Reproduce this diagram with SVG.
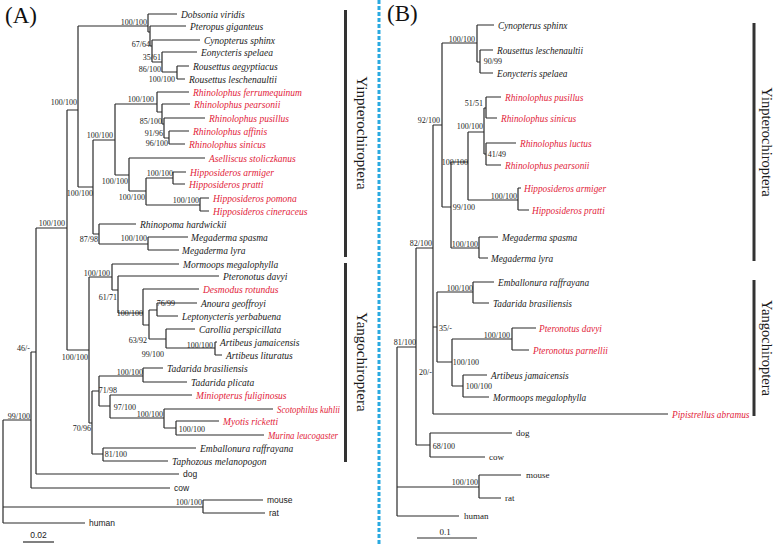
<svg xmlns="http://www.w3.org/2000/svg" width="776" height="546" viewBox="0 0 776 546">
<style>
.e{stroke:#2b2b2b;stroke-width:1.2;fill:none}
.bar{stroke:#333;stroke-width:3}
.sp{font-family:"Liberation Serif",serif;font-style:italic;font-size:9.5px;fill:#1a1a1a}
.spb{font-family:"Liberation Serif",serif;font-style:italic;font-size:9.3px;fill:#1a1a1a}
.r{fill:#e2233a}
.bs{font-family:"Liberation Serif",serif;font-size:8px;fill:#1a1a1a;text-anchor:end}
.og{font-family:"Liberation Sans",sans-serif;font-size:8.5px;fill:#1a1a1a}
.ogb{font-family:"Liberation Serif",serif;font-size:9px;fill:#1a1a1a}
.cl{font-family:"Liberation Serif",serif;font-size:15px;fill:#1a1a1a;text-anchor:middle}
.clb{font-family:"Liberation Serif",serif;font-size:14.5px;fill:#1a1a1a;text-anchor:middle}
.pl{font-family:"Liberation Serif",serif;font-size:23px;fill:#111}
</style>
<rect width="776" height="546" fill="#fff"/>
<line x1="379" y1="0" x2="379" y2="546" stroke="#2aa9e0" stroke-width="3" stroke-dasharray="4 2"/>
<text class="pl" x="5" y="23">(A)</text>
<text class="pl" x="387" y="21">(B)</text>

<g id="connectors-A">
<path class="e" d="M3 420V523M3 420H31M3 507H203M3 523H85
M31 352V488M31 352H36M31 488H170
M36 228V474M36 228H67M36 474H179
M203 500V513M203 500H263M203 513H265
M67 110V350M67 110H78M67 350H89
M78 26V187M78 26H148M78 187H93
M148 14V32M148 14H177M148 32H150
M150 26V46M150 26H186M150 46H152
M152 40V62M152 40H200M152 62H162
M162 52V72M162 52H197M162 72H177
M177 66V79M177 66H189M177 79H185
M93 140V234M93 140H115M93 234H99
M115 104V175M115 104H157M115 175H129
M157 92V112M157 92H189M157 112H162
M162 104V124M162 104H190M162 124H164
M164 118V138M164 118H205M164 138H169
M169 131V144M169 131H189M169 144H185
M129 158V191M129 158H205M129 191H146
M146 178V205M146 178H173M146 205H200
M173 172V184M173 172H186M173 184H185
M200 198V211M200 198H209M200 211H209
M99 224V244M99 224H136M99 244H148
M148 237V250M148 237H188M148 250H179
M89 277V423M89 277H112M89 423H92
M112 264V290M112 264H179M112 290H118
M118 276V313M118 276H219M118 313H143
M143 289V325M143 289H199M143 325H149
M149 310V339M149 310H157M149 339H166
M157 303V316M157 303H197M157 316H178
M166 329V348M166 329H195M166 348H215
M215 342V355M215 342H217M215 355H222
M92 391V454M92 391H99M92 454H103
M99 376V406M99 376H143M99 406H110
M143 368V382M143 368H163M143 382H187
M110 395V418M110 395H192M110 418H164
M164 409V428M164 409H273M164 428H176
M176 421V435M176 421H219M176 435H264
M103 448V461M103 448H196M103 461H168"/>
<line x1="23" y1="542" x2="54" y2="542" class="e"/>
</g>

<g id="support-A" class="bs">
<text x="147" y="25">100/100</text>
<text x="150" y="47">67/64</text>
<text x="161" y="60">35/61</text>
<text x="161" y="72">86/100</text>
<text x="175" y="82">100/100</text>
<text x="154" y="102">100/100</text>
<text x="162" y="124">85/100</text>
<text x="163" y="136">91/96</text>
<text x="168" y="146">96/100</text>
<text x="113" y="138">100/100</text>
<text x="128" y="184">100/100</text>
<text x="173" y="176">100/100</text>
<text x="145" y="200">100/100</text>
<text x="199" y="203">100/100</text>
<text x="93" y="196">100/100</text>
<text x="98" y="242">87/98</text>
<text x="147" y="241">100/100</text>
<text x="77" y="105">100/100</text>
<text x="65" y="226">100/100</text>
<text x="110" y="276">100/100</text>
<text x="117" y="300">61/71</text>
<text x="143" y="316">100/100</text>
<text x="175" y="306">76/99</text>
<text x="147" y="343">63/92</text>
<text x="164" y="357">99/100</text>
<text x="213" y="348">100/100</text>
<text x="88" y="360">100/100</text>
<text x="143" y="375">100/100</text>
<text x="117" y="393">71/98</text>
<text x="136" y="410">97/100</text>
<text x="163" y="417">100/100</text>
<text x="205" y="432">100/100</text>
<text x="91" y="431">70/96</text>
<text x="127" y="457">81/100</text>
<text x="30" y="351">46/-</text>
<text x="30" y="419">99/100</text>
<text x="202" y="505">100/100</text>
</g>

<g id="leaves-A" class="sp">
<g id="a1"><text x="181" y="17.5">Dobsonia viridis</text></g>
<g id="a2"><text x="190" y="29.5">Pteropus giganteus</text></g>
<g id="a3"><text x="204" y="43.5">Cynopterus sphinx</text></g>
<g id="a4"><text x="201" y="55.5">Eonycteris spelaea</text></g>
<g id="a5"><text x="193" y="69.5">Rousettus aegyptiacus</text></g>
<g id="a6"><text x="189" y="82.5">Rousettus leschenaultii</text></g>
<g id="a7"><text class="r" x="193" y="95.5">Rhinolophus ferrumequinum</text></g>
<g id="a8"><text class="r" x="194" y="107.5">Rhinolophus pearsonii</text></g>
<g id="a9"><text class="r" x="209" y="121.5">Rhinolophus pusillus</text></g>
<g id="a10"><text class="r" x="193" y="134.5">Rhinolophus affinis</text></g>
<g id="a11"><text class="r" x="189" y="147.5">Rhinolophus sinicus</text></g>
<g id="a12"><text class="r" x="209" y="161.5">Aselliscus stoliczkanus</text></g>
<g id="a13"><text class="r" x="190" y="175.5">Hipposideros armiger</text></g>
<g id="a14"><text class="r" x="189" y="187.5">Hipposideros pratti</text></g>
<g id="a15"><text class="r" x="213" y="201.5">Hipposideros pomona</text></g>
<g id="a16"><text class="r" x="213" y="214.5">Hipposideros cineraceus</text></g>
<g id="a17"><text x="140" y="227.5">Rhinopoma hardwickii</text></g>
<g id="a18"><text x="191" y="240.5">Megaderma spasma</text></g>
<g id="a19"><text x="182" y="253.5">Megaderma lyra</text></g>
<g id="a20"><text x="183" y="267.5">Mormoops megalophylla</text></g>
<g id="a21"><text x="223" y="279.5">Pteronotus davyi</text></g>
<g id="a22"><text class="r" x="203" y="292.5">Desmodus rotundus</text></g>
<g id="a23"><text x="201" y="306.5">Anoura geoffroyi</text></g>
<g id="a24"><text x="182" y="319.5">Leptonycteris yerbabuena</text></g>
<g id="a25"><text x="199" y="332.5">Carollia perspicillata</text></g>
<g id="a26"><text x="220" y="345.5">Artibeus jamaicensis</text></g>
<g id="a27"><text x="226" y="358.5">Artibeus lituratus</text></g>
<g id="a28"><text x="167" y="371.5">Tadarida brasiliensis</text></g>
<g id="a29"><text x="191" y="385.5">Tadarida plicata</text></g>
<g id="a30"><text class="r" x="196" y="398.5">Miniopterus fuliginosus</text></g>
<g id="a31"><text class="r" x="277" y="412.5" textLength="63" lengthAdjust="spacingAndGlyphs">Scotophilus kuhlii</text></g>
<g id="a32"><text class="r" x="223" y="424.5">Myotis ricketti</text></g>
<g id="a33"><text class="r" x="268" y="438.5" textLength="70" lengthAdjust="spacingAndGlyphs">Murina leucogaster</text></g>
<g id="a34"><text x="200" y="451.5">Emballonura raffrayana</text></g>
<g id="a35"><text x="172" y="464.5">Taphozous melanopogon</text></g>
</g>
<g id="outgroups-A" class="og">
<g id="a36"><text x="183" y="477">dog</text></g>
<g id="a37"><text x="174" y="491">cow</text></g>
<g id="a38"><text x="267" y="503">mouse</text></g>
<g id="a39"><text x="269" y="516">rat</text></g>
<g id="a40"><text x="89" y="526">human</text></g>
<text x="38.5" y="538" text-anchor="middle">0.02</text>
</g>

<g id="clades-A">
<line class="bar" x1="345.5" y1="10" x2="345.5" y2="257"/>
<line class="bar" x1="345.5" y1="263" x2="345.5" y2="462"/>
<text class="cl" transform="translate(357,133) rotate(90)">Yinpterochiroptera</text>
<text class="cl" transform="translate(357,362) rotate(90)">Yangochiroptera</text>
</g>

<g id="connectors-B">
<path class="e" d="M397 347V516M397 347H416M397 487H479M397 516H459
M416 248V445M416 248H433M416 445H430
M430 433V457M430 433H512M430 457H485
M479 475V498M479 475H521M479 498H501
M433 125V414M433 125H442M433 327H437M433 414H668
M442 43V207M442 43H477M442 207H451
M477 25V62M477 25H494M477 62H480
M480 50V73M480 50H493M480 73H493
M451 162V248M451 162H468M451 248H479
M468 132V200M468 132H484M468 200H518
M484 108V154M484 108H486M484 154H486
M486 97V118M486 97H501M486 118H497M486 143V165M486 143H516M486 165H501
M518 188V210M518 188H521M518 210H529
M479 237V258M479 237H498M479 258H488
M437 292V362M437 292H473M437 362H452
M473 282V303M473 282H494M473 303H489
M452 339V386M452 339H512M452 386H463
M512 328V350M512 328H536M512 350H529
M463 375V397M463 375H487M463 397H489"/>
<line x1="417" y1="538" x2="477" y2="538" class="e"/>
</g>

<g id="support-B" class="bs">
<text x="475" y="42">100/100</text>
<text x="502" y="64">90/99</text>
<text x="483" y="106">51/51</text>
<text x="483" y="129">100/100</text>
<text x="506" y="157">41/49</text>
<text x="468" y="165">100/100</text>
<text x="517" y="199">100/100</text>
<text x="475" y="210">99/100</text>
<text x="478" y="247">100/100</text>
<text x="440" y="123">92/100</text>
<text x="432" y="246">82/100</text>
<text x="416" y="345">81/100</text>
<text x="432" y="375">20/-</text>
<text x="452" y="331">35/-</text>
<text x="473" y="291">100/100</text>
<text x="510" y="338">100/100</text>
<text x="479" y="365">100/100</text>
<text x="492" y="389">100/100</text>
<text x="455" y="449">68/100</text>
<text x="478" y="485">100/100</text>
</g>

<g id="leaves-B" class="spb">
<g id="b1"><text x="498" y="28.5">Cynopterus sphinx</text></g>
<g id="b2"><text x="497" y="53.5">Rousettus leschenaultii</text></g>
<g id="b3"><text x="497" y="76.5">Eonycteris spelaea</text></g>
<g id="b4"><text class="r" x="505" y="100.5">Rhinolophus pusillus</text></g>
<g id="b5"><text class="r" x="501" y="121.5">Rhinolophus sinicus</text></g>
<g id="b6"><text class="r" x="520" y="146.5">Rhinolophus luctus</text></g>
<g id="b7"><text class="r" x="505" y="168.5">Rhinolophus pearsonii</text></g>
<g id="b8"><text class="r" x="524" y="191.5">Hipposideros armiger</text></g>
<g id="b9"><text class="r" x="532" y="213.5">Hipposideros pratti</text></g>
<g id="b10"><text x="502" y="240.5">Megaderma spasma</text></g>
<g id="b11"><text x="491" y="261.5">Megaderma lyra</text></g>
<g id="b12"><text x="498" y="285.5">Emballonura raffrayana</text></g>
<g id="b13"><text x="493" y="306.5">Tadarida brasiliensis</text></g>
<g id="b14"><text class="r" x="539" y="331.5">Pteronotus davyi</text></g>
<g id="b15"><text class="r" x="533" y="353.5">Pteronotus parnellii</text></g>
<g id="b16"><text x="491" y="378.5">Artibeus jamaicensis</text></g>
<g id="b17"><text x="493" y="400.5">Mormoops megalophylla</text></g>
<g id="b18"><text class="r" x="672" y="417.5">Pipistrellus abramus</text></g>
</g>
<g id="outgroups-B" class="ogb">
<g id="b19"><text x="516" y="436">dog</text></g>
<g id="b20"><text x="489" y="460">cow</text></g>
<g id="b21"><text x="526" y="478">mouse</text></g>
<g id="b22"><text x="505" y="501">rat</text></g>
<g id="b23"><text x="464" y="519">human</text></g>
<text x="445" y="535" text-anchor="middle">0.1</text>
</g>

<g id="clades-B">
<line class="bar" x1="754" y1="23" x2="754" y2="261"/>
<line class="bar" x1="754" y1="280" x2="754" y2="416"/>
<text class="clb" transform="translate(762,142) rotate(90)">Yinpterochiroptera</text>
<text class="clb" transform="translate(762,348) rotate(90)">Yangochiroptera</text>
</g>
</svg>
